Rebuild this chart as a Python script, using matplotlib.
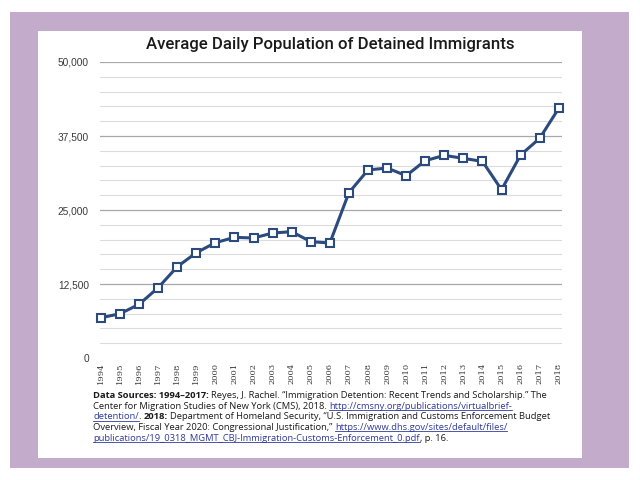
import matplotlib
matplotlib.use("Agg")
import matplotlib.pyplot as plt
from matplotlib.patches import Rectangle
from matplotlib.lines import Line2D

# data
years = list(range(1994, 2019))
population = [6800, 7480, 9070, 11880, 15420, 17790, 19480, 20380, 20270,
              21110, 21340, 19650, 19430, 27930, 31760, 32090, 30800, 33330,
              34230, 33720, 33210, 28430, 34290, 37110, 42180]
ytick_values = [0, 12500, 25000, 37500, 50000]
grid_step = 2500

title = "Average Daily Population of Detained Immigrants"
# source note: (text, style) segments per line
source_lines = [
    [("Data Sources: 1994\u20132017:", "bold"),
     (" Reyes, J. Rachel. \u201cImmigration Detention: Recent Trends and Scholarship.\u201d The", "normal")],
    [("Center for Migration Studies of New York (CMS), 2018. ", "normal"),
     ("http://cmsny.org/publications/virtualbrief-", "link")],
    [("detention/", "link"), (". ", "normal"), ("2018:", "bold"),
     (" Department of Homeland Security, \u201cU.S. Immigration and Customs Enforcement Budget", "normal")],
    [("Overview, Fiscal Year 2020: Congressional Justification,\u201d ", "normal"),
     ("https://www.dhs.gov/sites/default/files/", "link")],
    [("publications/19_0318_MGMT_CBJ-Immigration-Customs-Enforcement_0.pdf", "link"),
     (", p. 16.", "normal")],
]

PURPLE = "#c2abcb"
LINE = "#2b4a7e"
LINK = "#2f3a9c"
W, H = 640, 480

fig = plt.figure(figsize=(6.4, 4.8), dpi=100)
fig.patch.set_facecolor("white")


def box(x0, y0, x1, y1):
    # pixel box (top-left origin) -> figure fraction rect
    return [x0 / W, 1 - y1 / H, (x1 - x0) / W, (y1 - y0) / H]


r = box(10, 12, 629, 468)
fig.add_artist(Rectangle((r[0], r[1]), r[2], r[3], transform=fig.transFigure,
                         facecolor=PURPLE, edgecolor="none", zorder=-2))
r = box(38, 31, 582, 458)
fig.add_artist(Rectangle((r[0], r[1]), r[2], r[3], transform=fig.transFigure,
                         facecolor="white", edgecolor="none", zorder=-1))

ax = fig.add_axes(box(100, 62, 562, 358))
ax.set_facecolor("none")
ax.set_xlim(1993.95, 2018.17)
ax.set_ylim(0, 50000)

for v in range(grid_step, ytick_values[-1] + 1, grid_step):
    major = v % ytick_values[1] == 0
    ax.axhline(v, color="#a8a8a8" if major else "#dcdcdc", lw=0.9 if major else 0.8, zorder=1)

ax.plot(years, population, color=LINE, lw=2.2, marker="s", markersize=5.8,
        markerfacecolor="white", markeredgecolor=LINE, markeredgewidth=1.5, zorder=3,
        clip_on=False)

for s in ax.spines.values():
    s.set_visible(False)
ax.set_yticks(ytick_values)
ax.set_yticklabels([f"{v:,}" for v in ytick_values], fontsize=7.3, color="#3a3a3a",
                   family="Liberation Sans")
ax.set_xticks(years)
ax.set_xticklabels([str(y) for y in years], rotation=90, fontsize=6, color="#3a3a3a",
                   family="DejaVu Serif")
ax.tick_params(axis="y", length=0, pad=8)
ax.tick_params(axis="x", length=0, pad=3.5)

renderer = fig.canvas.get_renderer()


def width_of(s, **kw):
    t = fig.text(0, 0, s, **kw)
    w = t.get_window_extent(renderer).width
    t.remove()
    return w


# title, fitted to its width in the reference
tkw = dict(family="Roboto", weight="medium", color="#1a1a1a")
tsize = 13 * 368 / width_of(title, fontsize=13, **tkw)
fig.text(330 / W, 1 - 45 / H, title, fontsize=tsize, ha="center", va="center", **tkw)

# source note
styles = {
    "normal": dict(family="Open Sans", color="#1a1a1a"),
    "bold": dict(family="Open Sans", weight="bold", color="#1a1a1a"),
    "link": dict(family="Open Sans", color=LINK),
}


def seg_width(text, style, size):
    kw = dict(styles[style], fontsize=size)
    core = text.strip()
    sp = width_of("x x", **kw) - width_of("xx", **kw)
    lead = len(text) - len(text.lstrip())
    trail = len(text) - len(text.rstrip())
    return lead * sp, width_of(core, **kw), trail * sp


def line_width(line, size):
    return sum(sum(seg_width(t, s, size)) for t, s in line)


fsize = 6 * 462 / line_width(source_lines[0], 6)
y0, dy = 398, 10.7
for i, line in enumerate(source_lines):
    x = 93
    yb = y0 + i * dy
    for text, style in line:
        lead, w, trail = seg_width(text, style, fsize)
        x += lead
        fig.text(x / W, 1 - yb / H, text.strip(), fontsize=fsize, va="baseline",
                 **styles[style])
        if style == "link":
            fig.add_artist(Line2D([x / W, (x + w) / W], [1 - (yb + 1.3) / H] * 2,
                                  transform=fig.transFigure, color=LINK, lw=0.6))
        x += w + trail

fig.savefig("out.png", dpi=100)
